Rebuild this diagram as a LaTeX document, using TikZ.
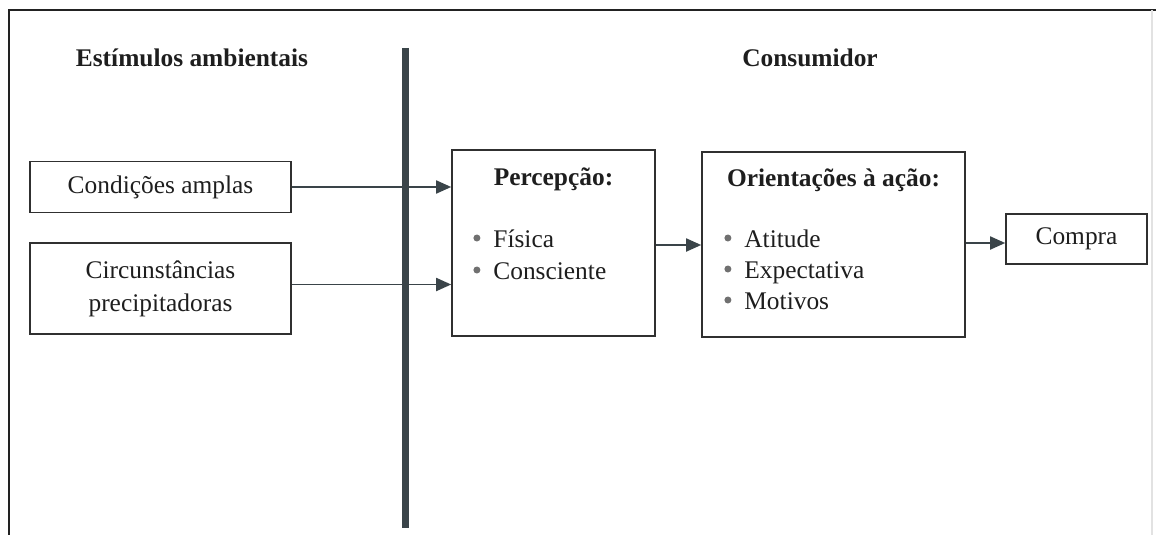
\documentclass[tikz,border=0pt]{standalone}
\usepackage{fontspec}
\setmainfont{Liberation Serif}
\usetikzlibrary{arrows.meta}
\definecolor{ink}{HTML}{1E1E1E}
\definecolor{linec}{HTML}{303030}
\definecolor{barc}{HTML}{3A4449}
\definecolor{bulc}{HTML}{707070}
\definecolor{framec}{HTML}{222222}
\definecolor{faint}{HTML}{E2E2E2}
\newcommand{\bulmark}{\makebox[10pt][l]{\tikz[baseline=-4.5pt]\fill[bulc] (0,0) circle (1.75pt);}}
\begin{document}
\begin{tikzpicture}[x=0.5pt,y=-0.5pt,
  txt/.style={font=\fontsize{12.7}{16.5}\selectfont, text=ink, inner sep=0pt},
  hd/.style={font=\fontsize{12.7}{16.5}\selectfont\bfseries, text=ink, inner sep=0pt},
  box/.style={draw=linec, line width=0.8pt, inner sep=0pt, font=\fontsize{12.7}{16.5}\selectfont, text=ink},
  arr/.style={draw=linec, line width=0.9pt, -{Triangle[length=7.5pt,width=6.5pt]}, barc}
]
\useasboundingbox (0,0) rectangle (1156,535);
% frame
\draw[framec, line width=0.8pt] (1156,10) -- (9,10) -- (9,535);
\draw[faint, line width=0.6pt] (1152,10) -- (1152,535);
% divider
\draw[barc, line width=3.5pt] (405,48) -- (405,528);
% headings
\node[hd, anchor=base] (hl) at (192,67) {Estímulos ambientais};
\node[hd, anchor=base] (hr) at (810,67) {Consumidor};
% left boxes
\node[box, minimum width=130.5pt, minimum height=25.5pt] (cond) at (160.5,187) {Condições amplas};
\node[box, minimum width=130.5pt, minimum height=45.5pt, align=center] (circ) at (160.5,288.5) {Circunstâncias\\precipitadoras};
% perception box
\node[box, minimum width=101.5pt, minimum height=93pt] (perc) at (553.5,243) {};
\node[hd, anchor=base] (perct) at (553.5,185) {Percepção:};
\node[txt, anchor=base west] (p1) at (473,247) {\bulmark Física};
\node[txt, anchor=base west] (p2) at (473,279) {\bulmark Consciente};
% orientation box
\node[box, minimum width=131.5pt, minimum height=92.5pt] (orient) at (833.5,244.5) {};
\node[hd, anchor=base] (orientt) at (833.5,186) {Orientações à ação:};
\node[txt, anchor=base west] (o1) at (724,247) {\bulmark Atitude};
\node[txt, anchor=base west] (o2) at (724,278) {\bulmark Expectativa};
\node[txt, anchor=base west] (o3) at (724,309) {\bulmark Motivos};
% purchase
\node[box, minimum width=70.5pt, minimum height=25pt] (compra) at (1076.5,239) {Compra};
% connectors
\draw[arr] (cond.east) -- (cond.east -| perc.west);
\draw[arr] ([yshift=2pt]circ.east) -- ([yshift=2pt]circ.east -| perc.west);
\draw[arr] ([yshift=-1pt]perc.east) -- ([yshift=-1pt]perc.east -| orient.west);
\draw[arr] ([yshift=-2pt]compra.west -| orient.east) -- ([yshift=-2pt]compra.west);
\end{tikzpicture}
\end{document}
